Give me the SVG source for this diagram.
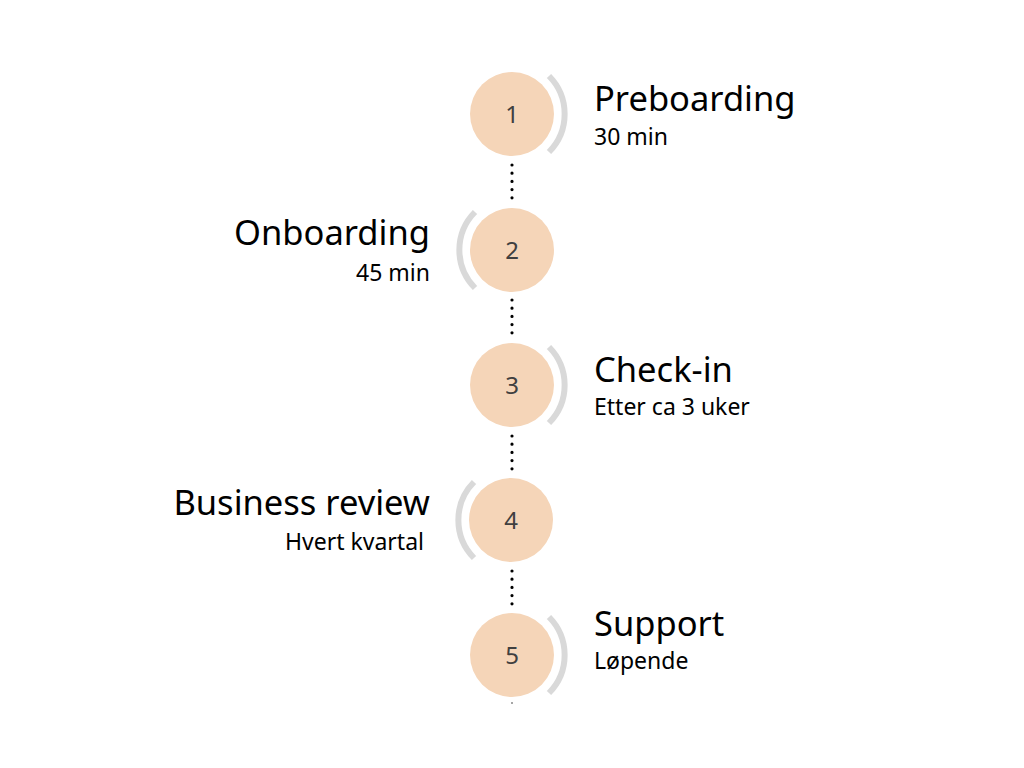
<svg xmlns="http://www.w3.org/2000/svg" width="1024" height="768" viewBox="0 0 1024 768">
<style>
.c{fill:#F5D5B8}
.arc{fill:none;stroke:#D9D9D9;stroke-width:6}
.dots{stroke:#000;stroke-width:3.2;stroke-linecap:round;stroke-dasharray:0 8.2}
.num{font-family:"Noto Sans","Liberation Sans",sans-serif;font-size:24px;fill:#404040;text-anchor:middle}
.t{font-family:"Noto Sans","Liberation Sans",sans-serif;font-size:34.5px;fill:#000}
.s{font-family:"Noto Sans","Liberation Sans",sans-serif;font-size:23px;fill:#000}
.r{text-anchor:end}
</style>
<rect width="1024" height="768" fill="#fff"/>
<g id="connectors">
<line class="dots" x1="512" y1="165" x2="512" y2="198"/>
<line class="dots" x1="512" y1="300" x2="512" y2="333"/>
<line class="dots" x1="512" y1="436" x2="512" y2="469"/>
<line class="dots" x1="512" y1="571" x2="512" y2="604"/>
<circle cx="512" cy="703" r="1" fill="#888"/>
</g>
<g id="node1">
<circle class="c" cx="512" cy="114" r="42"/>
<path class="arc" d="M549 76 A54 54 0 0 1 549 152"/>
<text class="num" x="512" y="123">1</text>
<text class="t" x="594" y="111">Preboarding</text>
<text class="s" x="594" y="145">30 min</text>
</g>
<g id="node2">
<circle class="c" cx="512" cy="250" r="42"/>
<path class="arc" d="M475 212 A54 54 0 0 0 475 288"/>
<text class="num" x="512" y="259">2</text>
<text class="t r" x="430" y="245">Onboarding</text>
<text class="s r" x="430" y="281">45 min</text>
</g>
<g id="node3">
<circle class="c" cx="512" cy="385" r="42"/>
<path class="arc" d="M549 347 A54 54 0 0 1 549 423"/>
<text class="num" x="512" y="394">3</text>
<text class="t" x="594" y="382">Check-in</text>
<text class="s" x="594" y="415">Etter ca 3 uker</text>
</g>
<g id="node4">
<circle class="c" cx="511" cy="520" r="42"/>
<path class="arc" d="M474 482 A54 54 0 0 0 474 558"/>
<text class="num" x="511" y="529">4</text>
<text class="t r" x="430" y="515">Business review</text>
<text class="s r" x="424" y="550">Hvert kvartal</text>
</g>
<g id="node5">
<circle class="c" cx="512" cy="655" r="42"/>
<path class="arc" d="M549 617 A54 54 0 0 1 549 693"/>
<text class="num" x="512" y="664">5</text>
<text class="t" x="594" y="636">Support</text>
<text class="s" x="594" y="669">Løpende</text>
</g>
</svg>
